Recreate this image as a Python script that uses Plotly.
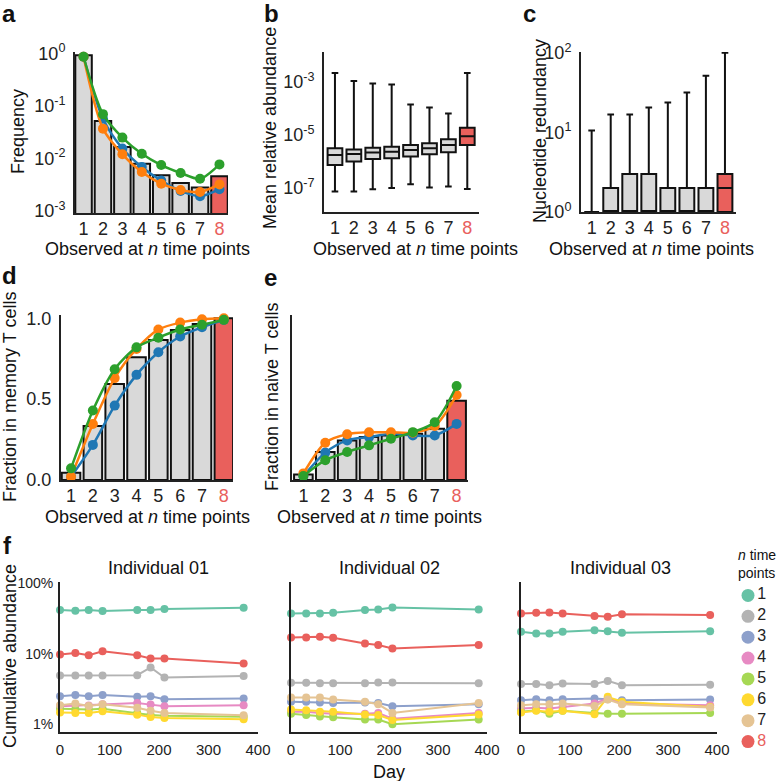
import plotly.graph_objects as go

W, H = 778, 781
FONT = "Liberation Sans, Arial, Helvetica, sans-serif"
RED = "#e9605c"
GRAYBAR = "#d9d9d9"
BLUE, ORANGE, GREEN = "#1f77b4", "#ff7f0e", "#2ca02c"

# ---------------- data ----------------
n_points = [1, 2, 3, 4, 5, 6, 7, 8]
n_ticktext = ["1", "2", "3", "4", "5", "6", "7", '<span style="color:%s">8</span>' % RED]

# a: frequency
freq_bar = [0.93, 0.052, 0.0166, 0.0079, 0.0048, 0.0034, 0.0028, 0.0046]
freq_blue = [0.87, 0.057, 0.0155, 0.0069, 0.0038, 0.0024, 0.0019, 0.0026]
freq_orange = [0.87, 0.037, 0.012, 0.0055, 0.0033, 0.0025, 0.0023, 0.0032]
freq_green = [0.87, 0.070, 0.025, 0.0123, 0.0075, 0.0053, 0.0041, 0.0077]

# b: mean relative abundance (box stats)
abund_upper = [2.19e-3, 1.10e-3, 8.7e-4, 8.1e-4, 1.41e-4, 1.10e-4, 6.5e-5, 2.19e-3]
abund_q3 = [3.16e-6, 2.88e-6, 3.35e-6, 3.63e-6, 4.22e-6, 4.9e-6, 6.9e-6, 1.88e-5]
abund_med = [1.78e-6, 1.95e-6, 2.19e-6, 2.37e-6, 2.75e-6, 3.16e-6, 4.22e-6, 9.1e-6]
abund_q1 = [7.5e-7, 1.0e-6, 1.26e-6, 1.33e-6, 1.55e-6, 1.88e-6, 2.24e-6, 4.22e-6]
abund_lower = [7.5e-8, 7.5e-8, 9.1e-8, 1.0e-7, 1.41e-7, 1.06e-7, 1.15e-7, 9.3e-8]

# c: nucleotide redundancy (box stats)
red_upper = [10.6, 16.8, 16.8, 20.5, 23.7, 31.7, 51.4, 100]
red_q3 = [1, 2, 3, 3, 2, 2, 2, 3]
red_med = [1, 1, 1, 1, 1, 1, 1, 2]
red_q1 = [1, 1, 1, 1, 1, 1, 1, 1]
red_lower = [1, 1, 1, 1, 1, 1, 1, 1]

# d: fraction in memory T cells
mem_bar = [0.045, 0.334, 0.594, 0.759, 0.866, 0.928, 0.965, 1.0]
mem_blue = [0.02, 0.217, 0.46, 0.65, 0.79, 0.887, 0.944, 0.99]
mem_orange = [0.02, 0.346, 0.63, 0.81, 0.93, 0.973, 0.994, 1.0]
mem_green = [0.072, 0.43, 0.685, 0.82, 0.88, 0.93, 0.96, 0.99]

# e: fraction in naive T cells
naive_bar = [0.034, 0.17, 0.24, 0.26, 0.27, 0.28, 0.31, 0.48]
naive_blue = [0.024, 0.166, 0.24, 0.26, 0.28, 0.27, 0.27, 0.34]
naive_orange = [0.04, 0.226, 0.277, 0.289, 0.289, 0.287, 0.327, 0.515]
naive_green = [0.024, 0.12, 0.17, 0.21, 0.25, 0.29, 0.35, 0.57]

# f: cumulative abundance over time (rows: n = 1..8)
ind01_days = [0, 31, 58, 86, 156, 183, 211, 371]
ind01_abund = [
    [0.418, 0.408, 0.418, 0.405, 0.418, 0.418, 0.432, 0.451],
    [0.0492, 0.0492, 0.0492, 0.0492, 0.0498, 0.064, 0.0461, 0.0486],
    [0.025, 0.0261, 0.025, 0.0261, 0.0245, 0.025, 0.0226, 0.0232],
    [0.018, 0.0184, 0.0184, 0.0192, 0.0201, 0.019, 0.018, 0.0186],
    [0.0166, 0.0162, 0.0162, 0.0166, 0.0145, 0.0135, 0.0132, 0.0128],
    [0.0147, 0.0145, 0.0145, 0.0153, 0.0137, 0.0127, 0.0123, 0.0118],
    [0.0186, 0.0197, 0.0182, 0.0192, 0.0171, 0.0155, 0.0145, 0.0134],
    [0.098, 0.103, 0.0957, 0.109, 0.0957, 0.0859, 0.0859, 0.073],
]
ind02_days = [0, 31, 59, 86, 151, 178, 207, 383]
ind02_abund = [
    [0.374, 0.374, 0.374, 0.383, 0.418, 0.427, 0.456, 0.427],
    [0.0387, 0.0387, 0.0383, 0.0383, 0.0383, 0.0391, 0.0391, 0.0383],
    [0.0209, 0.0209, 0.0204, 0.02, 0.0204, 0.02, 0.018, 0.0192],
    [0.0151, 0.0151, 0.0145, 0.0141, 0.0141, 0.0145, 0.012, 0.0145],
    [0.0141, 0.0135, 0.0129, 0.0126, 0.0117, 0.0117, 0.01, 0.0117],
    [0.0162, 0.0158, 0.0151, 0.0151, 0.0138, 0.0135, 0.0115, 0.0138],
    [0.024, 0.024, 0.024, 0.0224, 0.0209, 0.0192, 0.0145, 0.02],
    [0.171, 0.171, 0.175, 0.169, 0.14, 0.133, 0.119, 0.133],
]
ind03_days = [0, 31, 58, 85, 150, 177, 206, 386]
ind03_abund = [
    [0.206, 0.195, 0.195, 0.206, 0.217, 0.21, 0.199, 0.21],
    [0.0372, 0.0372, 0.0359, 0.038, 0.0372, 0.0413, 0.0359, 0.0363],
    [0.0219, 0.0226, 0.0219, 0.0226, 0.0232, 0.0226, 0.0219, 0.0224],
    [0.0167, 0.0171, 0.0167, 0.0176, 0.0197, 0.0232, 0.0197, 0.0186],
    [0.015, 0.0158, 0.0141, 0.0155, 0.0145, 0.0141, 0.0141, 0.0145],
    [0.0147, 0.0155, 0.015, 0.0155, 0.0139, 0.0245, 0.0209, 0.0176],
    [0.0186, 0.0192, 0.0192, 0.0197, 0.0182, 0.0224, 0.0192, 0.0173],
    [0.374, 0.383, 0.387, 0.374, 0.344, 0.336, 0.366, 0.355],
]
n_colors = ["#66c2a5", "#b3b3b3", "#8da0cb", "#e78ac3", "#a6d854", "#ffd92f", "#e5c494", RED]
n_labels = ["1", "2", "3", "4", "5", "6", "7", "8"]
pct_tickvals = [0.01, 0.1, 1]
pct_ticktext = ["1%", "10%", "100%"]


# ---------------- helpers ----------------
def xd(l, r):
    return [l / W, r / W]


def yd(top, bottom):
    return [1 - bottom / H, 1 - top / H]


def px(x):
    return x / W


def py(y):
    return 1 - y / H


fig = go.Figure()
bar_colors = [GRAYBAR] * 7 + [RED]


def add_bars(ax, vals):
    fig.add_trace(go.Bar(x=n_points, y=vals, width=0.85, marker=dict(color=bar_colors, line=dict(color="#111", width=2)),
                         xaxis="x" + ax, yaxis="y" + ax, showlegend=False))


def add_lines(ax, series):
    for vals, col in series:
        fig.add_trace(go.Scatter(x=n_points, y=vals, mode="lines+markers", line=dict(color=col, width=2.5, shape="spline", smoothing=0.8),
                                 marker=dict(color=col, size=10), xaxis="x" + ax, yaxis="y" + ax, showlegend=False, cliponaxis=False))


# a
add_bars("", freq_bar)
add_lines("", [(freq_blue, BLUE), (freq_orange, ORANGE), (freq_green, GREEN)])

# b
for idx, col in [(slice(0, 7), GRAYBAR), (slice(7, 8), RED)]:
    fig.add_trace(go.Box(x=n_points[idx], q1=abund_q1[idx], median=abund_med[idx], q3=abund_q3[idx],
                         lowerfence=abund_lower[idx], upperfence=abund_upper[idx], width=0.78, whiskerwidth=0.45,
                         fillcolor=col, line=dict(color="#111", width=2), boxpoints=False,
                         xaxis="x2", yaxis="y2", showlegend=False))
# c
for idx, col in [(slice(0, 7), GRAYBAR), (slice(7, 8), RED)]:
    fig.add_trace(go.Box(x=n_points[idx], q1=red_q1[idx], median=red_med[idx], q3=red_q3[idx],
                         lowerfence=red_lower[idx], upperfence=red_upper[idx], width=0.78, whiskerwidth=0.45,
                         fillcolor=col, line=dict(color="#111", width=2), boxpoints=False,
                         xaxis="x3", yaxis="y3", showlegend=False))

# d
add_bars("4", mem_bar)
add_lines("4", [(mem_blue, BLUE), (mem_orange, ORANGE), (mem_green, GREEN)])
# e
add_bars("5", naive_bar)
add_lines("5", [(naive_blue, BLUE), (naive_orange, ORANGE), (naive_green, GREEN)])

# f
for ax, days, rows in [("6", ind01_days, ind01_abund), ("7", ind02_days, ind02_abund), ("8", ind03_days, ind03_abund)]:
    for i, row in enumerate(rows):
        fig.add_trace(go.Scatter(x=days, y=row, mode="lines+markers", line=dict(color=n_colors[i], width=2),
                                 marker=dict(color=n_colors[i], size=8), xaxis="x" + ax, yaxis="y" + ax,
                                 showlegend=False, cliponaxis=False))

# legend for f (separate hidden axes)
fig.add_trace(go.Scatter(x=[0] * 8, y=n_points, mode="markers+text", text=n_labels, textposition="middle right",
                         textfont=dict(size=16, color=["#222"] * 7 + [RED], family=FONT),
                         marker=dict(color=n_colors, size=13), xaxis="x9", yaxis="y9", showlegend=False, cliponaxis=False))

axis_common = dict(showline=True, linecolor="#222", linewidth=2, showgrid=False, zeroline=False, ticks="",
                   automargin=False, tickfont=dict(size=18, color="#222", family=FONT))
xcat = dict(axis_common, tickmode="array", tickvals=n_points, ticktext=n_ticktext, ticklabelstandoff=-2)

layout = dict(
    width=W, height=H, autosize=False, margin=dict(l=0, r=0, t=0, b=0, pad=0, autoexpand=False),
    paper_bgcolor="white", plot_bgcolor="white", font=dict(family=FONT, color="#222"),
    barmode="overlay", boxmode="overlay",
    xaxis=dict(xcat, domain=xd(75, 228), range=[0.56, 8.44], anchor="y"),
    yaxis=dict(axis_common, domain=yd(52, 213), type="log", range=[-3.04, 0.03], tickmode="array",
               tickvals=[1e-3, 1e-2, 1e-1, 1], ticktext=["10<sup>-3</sup>", "10<sup>-2</sup>", "10<sup>-1</sup>", "10<sup>0</sup>"],
               anchor="x", ticklabelstandoff=4),
    xaxis2=dict(xcat, domain=xd(324, 479), range=[0.42, 8.62], anchor="y2"),
    yaxis2=dict(axis_common, domain=yd(52, 212), type="log", range=[-7.9, -1.87], tickmode="array",
                tickvals=[1e-7, 1e-5, 1e-3], ticktext=["10<sup>-7</sup>", "10<sup>-5</sup>", "10<sup>-3</sup>"],
                anchor="x2", ticklabelstandoff=4),
    xaxis3=dict(xcat, domain=xd(581, 736), range=[0.44, 8.58], anchor="y3"),
    yaxis3=dict(axis_common, domain=yd(52, 212), type="log", range=[0, 2.01], tickmode="array",
                tickvals=[1, 10, 100], ticktext=["10<sup>0</sup>", "10<sup>1</sup>", "10<sup>2</sup>"],
                anchor="x3", ticklabelstandoff=4),
    xaxis4=dict(xcat, domain=xd(61, 233), range=[0.54, 8.42], anchor="y4"),
    yaxis4=dict(axis_common, domain=yd(315, 480), range=[0, 1.02], tickmode="array", tickvals=[0, 0.5, 1.0],
                ticktext=["0.0", "0.5", "1.0"], anchor="x4", ticklabelstandoff=4),
    xaxis5=dict(xcat, domain=xd(292, 468), range=[0.48, 8.52], anchor="y5"),
    yaxis5=dict(axis_common, domain=yd(315, 480), range=[0, 1], showticklabels=False, anchor="x5"),
    xaxis9=dict(domain=xd(738, 778), range=[-1, 3], visible=False, anchor="y9", automargin=False),
    yaxis9=dict(domain=yd(585, 752), range=[8.5, 0.5], visible=False, anchor="x9", automargin=False),
)
fdom = [(60, 258), (291, 487), (521, 717)]
for k, (l, r) in zip(["6", "7", "8"], fdom):
    layout["xaxis" + k] = dict(axis_common, domain=xd(l, r), range=[0, 400], tickmode="array", tickvals=[0, 100, 200, 300, 400],
                               tickfont=dict(size=15, color="#222", family=FONT), anchor="y" + k, ticklabelstandoff=3)
    layout["yaxis" + k] = dict(axis_common, domain=yd(582, 732), type="log", range=[-2.11, 0.02], tickmode="array",
                               tickvals=pct_tickvals, ticktext=pct_ticktext, tickfont=dict(size=14, color="#222", family=FONT),
                               showticklabels=(k == "6"), anchor="x" + k, ticklabelstandoff=2)
fig.update_layout(**layout)

ann = []


def text(x, y, s, size=18, angle=0, xanchor="center", bold=False, align="center"):
    if bold:
        s = "<b>%s</b>" % s
    ann.append(dict(x=px(x), y=py(y), xref="paper", yref="paper", text=s, showarrow=False, textangle=angle,
                    xanchor=xanchor, yanchor="middle", align=align, font=dict(size=size, family=FONT, color="#111")))


obs = "Observed at <i>n</i> time points"
for x, y in [(147, 249), (415, 249), (651, 249), (147, 517), (379, 517)]:
    text(x, y, obs)
text(18, 132, "Frequency", angle=-90)
text(270, 128, "Mean relative abundance", angle=-90)
text(540, 131, "Nucleotide redundancy", angle=-90)
text(10, 397, "Fraction in memory T cells", angle=-90)
text(272, 397, "Fraction in naive T cells", angle=-90)
text(10, 656, "Cumulative abundance", angle=-90)
text(158, 568, "Individual 01")
text(389, 568, "Individual 02")
text(620, 568, "Individual 03")
text(389, 772, "Day")
text(736, 564, "<i>n</i> time<br>points", size=14, xanchor="left", align="left")
for lab, x, y in [("a", 0, 13), ("b", 262, 13), ("c", 521, 14), ("d", 0, 275), ("e", 262, 277), ("f", 1, 545)]:
    text(x, y, lab, size=24, xanchor="left", bold=True)
fig.update_layout(annotations=ann)

fig.write_html("out.html", config={"displayModeBar": False, "staticPlot": True},
               post_script="document.body.style.margin='0';document.body.style.overflow='hidden';")
